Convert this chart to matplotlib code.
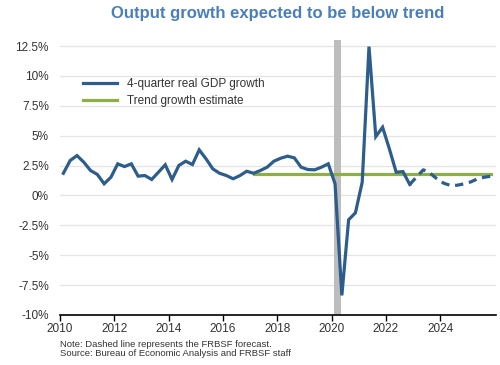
# -*- coding: utf-8 -*-
import numpy as np
import matplotlib.pyplot as plt

plt.rcParams['font.family'] = ['Liberation Sans', 'DejaVu Sans']

# 4-quarter real GDP growth, quarterly from 2010Q1 (percent)
gdp_actual = [1.86, 2.93, 3.34, 2.79, 2.09, 1.76, 0.98, 1.53,
              2.65, 2.42, 2.65, 1.62, 1.67, 1.34, 1.95, 2.57,
              1.34, 2.51, 2.87, 2.59, 3.82, 3.07, 2.23, 1.86,
              1.67, 1.40, 1.67, 2.03, 1.86, 2.09, 2.37, 2.87,
              3.12, 3.29, 3.15, 2.37, 2.17, 2.15, 2.37, 2.65,
              0.98, -8.36, -2.03, -1.45, 1.11, 12.46, 4.93, 5.71,
              3.90, 1.95, 2.00, 0.92]
# FRBSF forecast, starting from last actual quarter (2022Q4)
gdp_forecast = [0.92, 1.55, 2.15, 1.86, 1.40, 1.03, 0.84, 0.86,
                0.98, 1.14, 1.40, 1.53, 1.62]
trend_value = 1.8
trend_start = 28  # 2017Q1
yticks = [-10, -7.5, -5, -2.5, 0, 2.5, 5, 7.5, 10, 12.5]
ytick_labels = ['-10%', '-7.5%', '-5%', '-2.5%', '0%', '2.5%', '5%', '7.5%', '10%', '12.5%']
xticks = [2010, 2012, 2014, 2016, 2018, 2020, 2022, 2024]

blue = '#2c5d8c'
green = '#8cb043'

n_act = len(gdp_actual)
x_act = 2010 + np.arange(n_act) / 4 + 0.125
x_fc = 2010 + np.arange(n_act - 1, n_act - 1 + len(gdp_forecast)) / 4 + 0.125
x_all = 2010 + np.arange(n_act - 1 + len(gdp_forecast)) / 4 + 0.125

fig = plt.figure(figsize=(5, 3.65), dpi=100)
ax = fig.add_axes([0.12, 0.137, 0.872, 0.753])

# 衰退期阴影
ax.axvspan(2020.1, 2020.33, color='#bdbdbd', zorder=1, lw=0)

ax.plot(x_act, gdp_actual, color=blue, lw=2.3, zorder=3,
        label='4-quarter real GDP growth', solid_joinstyle='miter')
ax.plot(x_fc, gdp_forecast, color=blue, lw=2.3, zorder=3,
        dashes=(2.6, 1.8))
trend_x = x_all[trend_start:]
ax.plot(trend_x, [trend_value] * len(trend_x), color=green, lw=2.3,
        zorder=2, label='Trend growth estimate')

ax.set_xlim(2010, 2026.05)
ax.set_ylim(-10, 13)
ax.set_yticks(yticks)
ax.set_yticklabels(ytick_labels)
ax.set_xticks(xticks)
ax.grid(axis='y', color='#e4e4e4', lw=0.9, zorder=0)
ax.set_axisbelow(True)

for s in ['top', 'right', 'left']:
    ax.spines[s].set_visible(False)
ax.spines['bottom'].set_color('black')
ax.spines['bottom'].set_linewidth(1.2)
ax.tick_params(axis='y', length=0, labelsize=8.5, colors='#333333', pad=8)
ax.tick_params(axis='x', length=4, width=1, direction='out',
               labelsize=8.5, labelcolor='#333333', pad=2)

ax.legend(loc='upper left', bbox_to_anchor=(0.028, 0.9), frameon=False,
          fontsize=8.5, handlelength=2.9, labelspacing=0.4,
          labelcolor='#333333')

fig.text(0.556, 0.963, 'Output growth expected to be below trend',
         ha='center', va='center', fontsize=12, fontweight='bold',
         color='#4a7ebb')
fig.text(0.12, 0.056, 'Note: Dashed line represents the FRBSF forecast.',
         fontsize=6.8, color='#333333', va='center')
fig.text(0.12, 0.031, 'Source: Bureau of Economic Analysis and FRBSF staff',
         fontsize=6.8, color='#333333', va='center')

plt.savefig('out.png', dpi=100)
